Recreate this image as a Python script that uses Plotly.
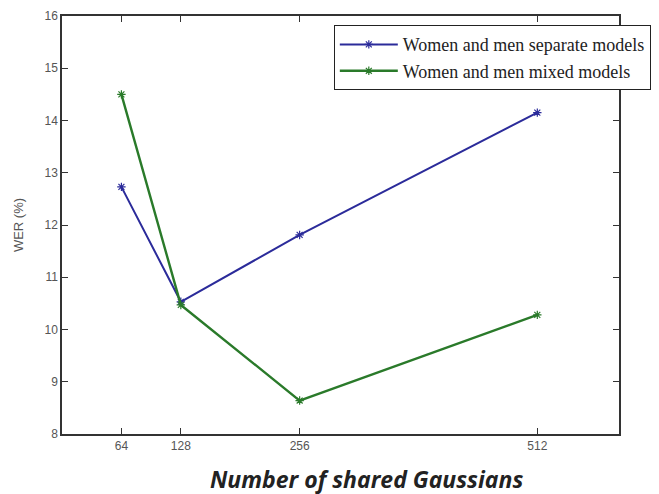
import plotly.graph_objects as go

x_vals = [64, 128, 256, 512]
separate = [12.73, 10.53, 11.81, 14.15]
mixed = [14.5, 10.47, 8.64, 10.28]
y_ticks = [8, 9, 10, 11, 12, 13, 14, 15, 16]

fig = go.Figure()
fig.add_trace(go.Scatter(
    x=x_vals, y=separate, mode="lines+markers",
    name="Women and men separate models",
    line=dict(color="#2b2b9a", width=2),
    marker=dict(symbol="asterisk", size=7, line=dict(color="#2b2b9a", width=1.2)),
))
fig.add_trace(go.Scatter(
    x=x_vals, y=mixed, mode="lines+markers",
    name="Women and men mixed models",
    line=dict(color="#2a7a2a", width=2.4),
    marker=dict(symbol="asterisk", size=7, line=dict(color="#2a7a2a", width=1.2)),
))

# page body has an 8px margin, so the figure is sized to fit the window
fig.update_layout(
    width=651, height=486,
    margin=dict(l=54, r=40, t=8, b=60, autoexpand=False),
    paper_bgcolor="white", plot_bgcolor="white",
    showlegend=True,
    legend=dict(
        x=0.488, y=0.978, xanchor="left", yanchor="top",
        bordercolor="#222", borderwidth=1, bgcolor="white",
        font=dict(family="Liberation Serif", size=18, color="#222"),
        tracegroupgap=0, itemwidth=58,
    ),
    font=dict(family="Liberation Sans", size=12, color="#444"),
)
fig.update_xaxes(
    range=[0, 600], tickvals=x_vals, ticktext=[str(v) for v in x_vals],
    ticks="inside", ticklen=6, tickcolor="#333",
    showline=True, linecolor="#333", linewidth=1.5, mirror="ticks",
    showgrid=False, zeroline=False, automargin=False,
    tickfont=dict(family="Liberation Sans", size=12, color="#555"),
)
fig.update_yaxes(
    range=[8, 16], tickvals=y_ticks,
    ticks="inside", ticklen=6, tickcolor="#333",
    showline=True, linecolor="#333", linewidth=1.5, mirror="ticks",
    showgrid=False, zeroline=False, automargin=False,
    tickfont=dict(family="Liberation Sans", size=12, color="#555"),
    title=dict(text="WER (%)", font=dict(family="Liberation Sans", size=13, color="#555"), standoff=18),
)
fig.add_annotation(
    text="<b><i>Number of shared Gaussians</i></b>",
    xref="paper", yref="paper", x=0.546, y=-0.108, xanchor="center", yanchor="middle",
    showarrow=False, font=dict(family="Open Sans", size=23, color="#222"),
)

fig.write_html("out.html")
